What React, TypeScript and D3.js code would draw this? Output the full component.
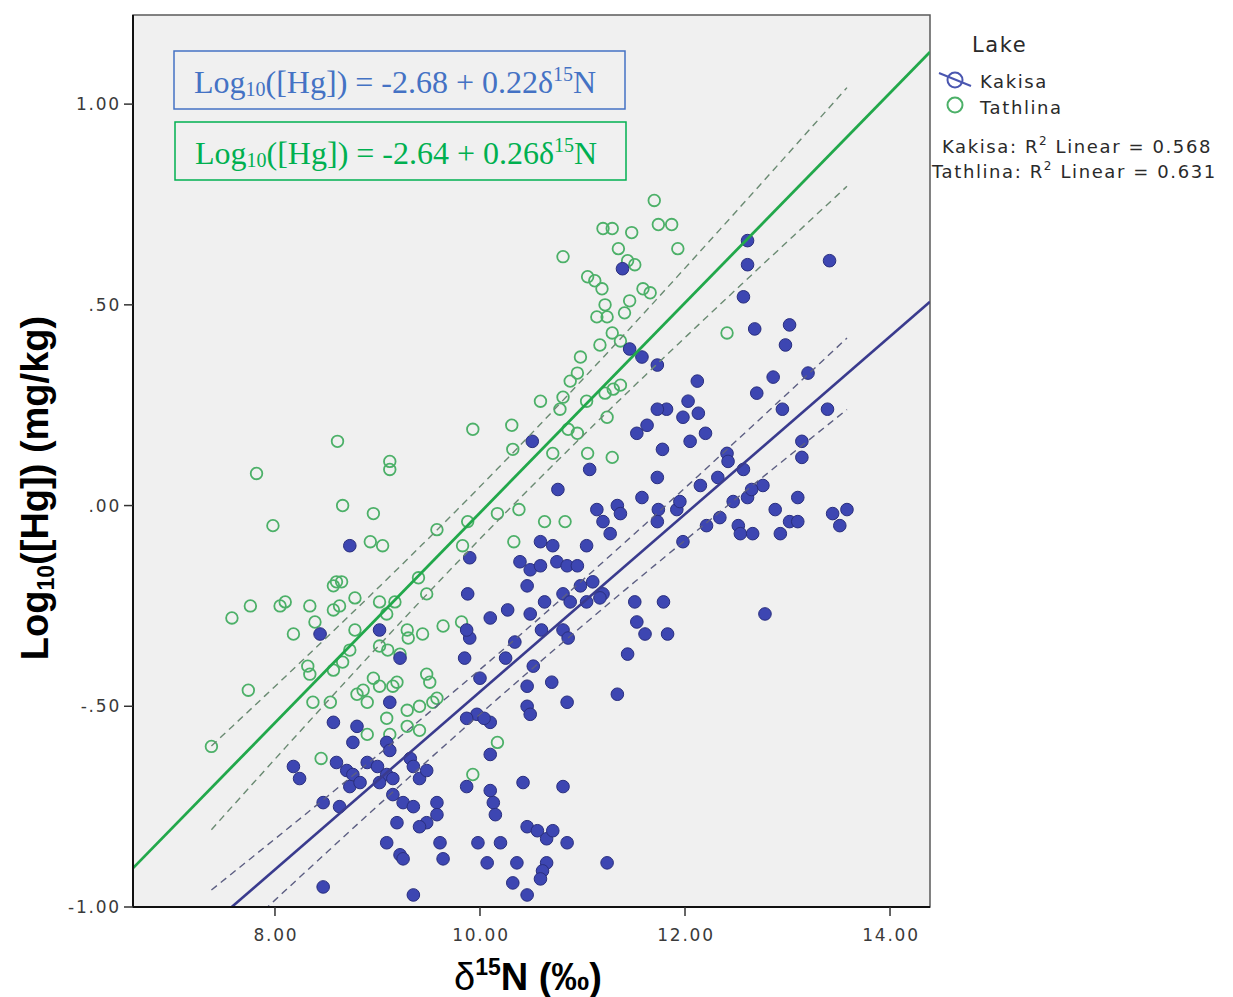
import React from 'react';
import * as d3 from 'd3';

// ---------- data ----------
const kakisaD15N = [
  11.39, 12.61, 12.61, 13.41, 12.57, 12.68, 13.02, 12.98, 11.46, 11.58, 11.73, 10.51, 12.12, 12.86, 12.70, 13.20,
  12.03, 12.13, 11.82, 11.98, 11.73, 11.63, 11.53, 11.78, 12.05, 12.20, 12.95, 13.39, 13.14, 13.14, 12.41, 12.42,
  12.57, 11.07, 11.73, 12.15, 12.32, 12.76, 10.76, 11.58, 11.74, 11.92, 11.95, 12.47, 12.61, 12.65, 12.88, 13.10,
  13.02, 13.10, 12.93, 13.44, 13.58, 13.51, 12.21, 12.34, 12.52, 12.54, 12.66, 11.98, 11.73, 11.14, 11.20, 11.27,
  11.34, 11.37, 11.04, 10.59, 10.71, 10.39, 10.49, 10.59, 10.75, 10.85, 10.95, 10.46, 10.81, 10.98, 11.10, 11.20,
  10.88, 11.04, 11.17, 10.49, 10.81, 10.86, 10.60, 11.51, 11.53, 11.61, 11.79, 11.83, 11.44, 12.78, 10.52, 10.70,
  10.46, 11.34, 8.73, 8.44, 9.90, 9.88, 10.10, 10.27, 9.90, 9.85, 9.87, 10.00, 9.97, 10.10, 9.22, 9.02,
  9.12, 8.57, 8.80, 8.76, 9.09, 9.12, 8.18, 8.24, 8.60, 8.70, 8.76, 8.90, 9.00, 9.09, 9.02, 9.15,
  8.73, 8.83, 9.32, 9.35, 9.41, 9.48, 8.47, 8.63, 9.15, 9.25, 9.35, 9.58, 9.58, 9.48, 9.19, 9.41,
  9.09, 9.22, 9.25, 9.61, 9.64, 8.47, 9.35, 9.87, 10.04, 10.10, 10.46, 10.49, 10.85, 10.42, 10.81, 9.87,
  10.10, 10.13, 10.15, 10.46, 10.56, 10.65, 10.71, 10.85, 9.98, 10.20, 10.07, 10.36, 10.65, 10.61, 10.59, 10.32,
  10.46, 11.24, 10.34, 10.63, 10.25,
];
const kakisaLogHg = [
  0.59, 0.66, 0.60, 0.61, 0.52, 0.44, 0.45, 0.40, 0.39, 0.37, 0.35, 0.16, 0.31, 0.32, 0.28, 0.33,
  0.26, 0.23, 0.24, 0.22, 0.24, 0.20, 0.18, 0.14, 0.16, 0.18, 0.24, 0.24, 0.16, 0.12, 0.13, 0.11,
  0.09, 0.09, 0.07, 0.05, 0.07, 0.05, 0.04, 0.02, -0.01, -0.01, 0.01, 0.01, 0.02, 0.04, -0.01, 0.02,
  -0.04, -0.04, -0.07, -0.02, -0.01, -0.05, -0.05, -0.03, -0.05, -0.07, -0.07, -0.09, -0.04, -0.01, -0.04, -0.07,
  0.00, -0.02, -0.10, -0.09, -0.10, -0.14, -0.16, -0.15, -0.14, -0.15, -0.15, -0.20, -0.22, -0.20, -0.19, -0.22,
  -0.24, -0.24, -0.23, -0.27, -0.31, -0.33, -0.31, -0.24, -0.29, -0.32, -0.24, -0.32, -0.37, -0.27, -0.40, -0.44,
  -0.45, -0.47, -0.10, -0.32, -0.13, -0.22, -0.28, -0.26, -0.33, -0.38, -0.31, -0.43, -0.52, -0.54, -0.38, -0.31,
  -0.49, -0.54, -0.55, -0.59, -0.59, -0.61, -0.65, -0.68, -0.64, -0.66, -0.67, -0.64, -0.65, -0.67, -0.69, -0.68,
  -0.70, -0.69, -0.63, -0.65, -0.68, -0.66, -0.74, -0.75, -0.72, -0.74, -0.75, -0.74, -0.77, -0.79, -0.79, -0.80,
  -0.84, -0.87, -0.88, -0.84, -0.88, -0.95, -0.97, -0.53, -0.53, -0.62, -0.50, -0.52, -0.49, -0.69, -0.70, -0.70,
  -0.71, -0.74, -0.77, -0.80, -0.81, -0.83, -0.81, -0.84, -0.84, -0.84, -0.89, -0.89, -0.89, -0.91, -0.93, -0.94,
  -0.97, -0.89, -0.34, -0.24, -0.38,
];
const tathlinaD15N = [
  11.70, 11.20, 11.29, 11.48, 11.74, 11.87, 11.35, 11.93, 10.81, 11.44, 11.51, 11.05, 11.12, 11.19, 11.59, 11.66,
  11.22, 11.14, 11.24, 11.41, 11.29, 12.41, 10.98, 10.81, 10.88, 10.95, 10.59, 10.78, 11.04, 11.22, 11.30, 11.37,
  10.31, 9.93, 10.32, 11.05, 11.29, 10.71, 10.86, 10.95, 11.24, 8.61, 7.82, 9.12, 9.12, 8.66, 8.96, 7.98,
  9.58, 8.93, 9.05, 8.60, 8.65, 8.57, 8.78, 8.05, 8.10, 8.34, 8.57, 8.63, 7.58, 8.18, 9.02, 9.09,
  8.78, 9.29, 9.30, 9.44, 9.48, 9.64, 9.02, 9.10, 8.32, 8.34, 8.57, 8.66, 8.37, 8.54, 8.80, 8.86,
  9.02, 8.96, 8.90, 9.48, 9.51, 9.58, 9.19, 9.29, 9.12, 7.74, 7.38, 8.45, 9.09, 9.29, 9.41, 8.90,
  9.15, 9.54, 10.17, 9.93, 9.88, 9.83, 10.38, 10.63, 10.83, 10.33, 10.17, 9.40, 9.82, 7.76, 8.39, 9.22,
  8.73, 9.41, 9.17, 11.46, 11.37, 11.17,
];
const tathlinaLogHg = [
  0.76, 0.69, 0.69, 0.68, 0.70, 0.70, 0.64, 0.64, 0.62, 0.61, 0.60, 0.57, 0.56, 0.54, 0.54, 0.53,
  0.50, 0.47, 0.47, 0.48, 0.43, 0.43, 0.37, 0.27, 0.31, 0.33, 0.26, 0.24, 0.26, 0.28, 0.29, 0.30,
  0.20, 0.19, 0.14, 0.13, 0.12, 0.13, 0.19, 0.18, 0.22, 0.16, 0.08, 0.11, 0.09, 0.00, -0.02, -0.05,
  -0.06, -0.09, -0.10, -0.19, -0.19, -0.20, -0.23, -0.25, -0.24, -0.25, -0.26, -0.25, -0.28, -0.32, -0.24, -0.27,
  -0.31, -0.31, -0.33, -0.32, -0.22, -0.30, -0.35, -0.36, -0.40, -0.42, -0.41, -0.39, -0.49, -0.49, -0.47, -0.46,
  -0.45, -0.43, -0.49, -0.42, -0.44, -0.48, -0.44, -0.51, -0.57, -0.46, -0.60, -0.63, -0.53, -0.55, -0.56, -0.57,
  -0.45, -0.49, -0.59, -0.67, -0.04, -0.10, -0.01, -0.04, -0.04, -0.09, -0.02, -0.18, -0.29, -0.25, -0.29, -0.37,
  -0.36, -0.50, -0.24, 0.51, 0.41, 0.40,
];

const xTicks = [8, 10, 12, 14];
const yTicks = [-1, -0.5, 0, 0.5, 1];

// fitted lines as drawn
const kakisaFit = { intercept: -2.677, slope: 0.2213 };
const tathlinaFit = { intercept: -2.633, slope: 0.2615 };
// mean-confidence band (half-width = sqrt(a^2 + b^2 (x-c)^2))
const kakisaBand = { a: 0.055, b: 0.022, c: 10.4 };
const tathlinaBand = { a: 0.065, b: 0.03, c: 10.1 };

const lakes = ['Kakisa', 'Tathlina'];
const r2Values = ['0.568', '0.631'];

// ---------- layout ----------
const W = 1233;
const H = 997;
const P = { left: 133, right: 930, top: 15, bottom: 907 };

const BLUE_PT = '#3d46b2';
const BLUE_PT_STROKE = '#2a2f7e';
const GREEN_PT = '#4cb068';
const BLUE_LINE = '#3a3b8e';
const GREEN_LINE = '#22a84b';
const EQ_BLUE = '#4472c4';
const EQ_GREEN = '#00b050';

const fmtY = (v: number) => {
  const s = Math.abs(v).toFixed(2).replace(/^0\./, '.');
  return (v < 0 ? '-' : '') + s;
};

export default function App() {
  const x = d3.scaleLinear().domain([6.615, 14.39]).range([P.left, P.right]);
  const y = d3.scaleLinear().domain([-1.0, 1.222]).range([P.bottom, P.top]);

  const allX = kakisaD15N.concat(tathlinaD15N);
  const xMin = d3.min(allX) as number;
  const xMax = d3.max(allX) as number;

  const line = d3
    .line<[number, number]>()
    .x((d) => x(d[0]))
    .y((d) => y(d[1]));

  const fitPath = (f: { intercept: number; slope: number }) => {
    const [a, b] = x.domain();
    return line([
      [a, f.intercept + f.slope * a],
      [b, f.intercept + f.slope * b],
    ]);
  };

  const bandPath = (
    f: { intercept: number; slope: number },
    band: { a: number; b: number; c: number },
    sign: number
  ) => {
    const n = 60;
    const pts: [number, number][] = d3.range(n + 1).map((i) => {
      const xv = xMin + ((xMax - xMin) * i) / n;
      const h = Math.sqrt(band.a * band.a + band.b * band.b * (xv - band.c) * (xv - band.c));
      return [xv, f.intercept + f.slope * xv + sign * h];
    });
    return line(pts);
  };

  const tickFont = { fontFamily: 'DejaVu Sans, sans-serif', fontSize: 17, fill: '#3a3a3a', letterSpacing: 1.8 };
  const legFont = { fontFamily: 'DejaVu Sans, sans-serif', fontSize: 18, fill: '#2a2a2a', letterSpacing: 1.6 };

  return (
    <svg
      width={W}
      height={H}
      viewBox={`0 0 ${W} ${H}`}
      style={{ position: 'absolute', left: 0, top: 0, background: '#ffffff' }}
    >
      <defs>
        <clipPath id="plotClip">
          <rect x={P.left} y={P.top} width={P.right - P.left} height={P.bottom - P.top} />
        </clipPath>
      </defs>

      {/* plot background */}
      <rect x={P.left} y={P.top} width={P.right - P.left} height={P.bottom - P.top} fill="#f0f0f0" stroke="#5a5a5a" strokeWidth={1.5} />

      {/* points */}
      <g clipPath="url(#plotClip)">
        {tathlinaD15N.map((d, i) => (
          <circle key={'t' + i} cx={x(d)} cy={y(tathlinaLogHg[i])} r={5.8} fill="none" stroke={GREEN_PT} strokeWidth={1.8} />
        ))}
        {kakisaD15N.map((d, i) => (
          <circle key={'k' + i} cx={x(d)} cy={y(kakisaLogHg[i])} r={6.3} fill={BLUE_PT} stroke={BLUE_PT_STROKE} strokeWidth={1} />
        ))}
      </g>

      {/* fit lines and bands */}
      <g clipPath="url(#plotClip)" fill="none">
        <path d={bandPath(tathlinaFit, tathlinaBand, 1) || ''} stroke="#6a8a72" strokeWidth={1.4} strokeDasharray="7 5" />
        <path d={bandPath(tathlinaFit, tathlinaBand, -1) || ''} stroke="#6a8a72" strokeWidth={1.4} strokeDasharray="7 5" />
        <path d={bandPath(kakisaFit, kakisaBand, 1) || ''} stroke="#5c5e82" strokeWidth={1.4} strokeDasharray="7 5" />
        <path d={bandPath(kakisaFit, kakisaBand, -1) || ''} stroke="#5c5e82" strokeWidth={1.4} strokeDasharray="7 5" />
        <path d={fitPath(tathlinaFit) || ''} stroke={GREEN_LINE} strokeWidth={2.8} />
        <path d={fitPath(kakisaFit) || ''} stroke={BLUE_LINE} strokeWidth={2.6} />
      </g>

      {/* axes lines */}
      <line x1={P.left} x2={P.left} y1={P.top} y2={P.bottom} stroke="#111" strokeWidth={2} />
      <line x1={P.left} x2={P.right} y1={P.bottom} y2={P.bottom} stroke="#111" strokeWidth={2} />

      {/* y ticks */}
      {yTicks.map((t) => (
        <g key={'yt' + t}>
          <line x1={P.left - 9} x2={P.left} y1={y(t)} y2={y(t)} stroke="#333" strokeWidth={1.5} />
          <text x={P.left - 12} y={y(t) + 6} textAnchor="end" {...tickFont}>
            {fmtY(t)}
          </text>
        </g>
      ))}

      {/* x ticks */}
      {xTicks.map((t) => (
        <g key={'xt' + t}>
          <line x1={x(t)} x2={x(t)} y1={P.bottom} y2={P.bottom + 9} stroke="#333" strokeWidth={1.5} />
          <text x={x(t) + 1} y={P.bottom + 34} textAnchor="middle" {...tickFont}>
            {t.toFixed(2)}
          </text>
        </g>
      ))}

      {/* axis titles */}
      <text
        transform={`translate(48, 488) rotate(-90)`}
        textAnchor="middle"
        fontFamily="Liberation Sans, Arial, sans-serif"
        fontWeight="bold"
        fontSize={38}
        fill="#000"
      >
        <tspan>Log</tspan>
        <tspan fontSize={23} dy={6}>10</tspan>
        <tspan dy={-6}>([Hg]) (mg/kg)</tspan>
      </text>
      <text
        x={528}
        y={990}
        textAnchor="middle"
        fontFamily="Liberation Sans, Arial, sans-serif"
        fontWeight="bold"
        fontSize={38}
        fill="#000"
      >
        <tspan fontWeight="normal">δ</tspan>
        <tspan fontSize={23} dy={-15}>15</tspan>
        <tspan dy={15}>N (‰)</tspan>
      </text>

      {/* equation boxes */}
      <rect x={174} y={51} width={451} height={58} fill="none" stroke={EQ_BLUE} strokeWidth={1.5} />
      <text x={194} y={93} fontFamily="Liberation Serif, Times New Roman, serif" fontSize={32} fill={EQ_BLUE}>
        <tspan>Log</tspan>
        <tspan fontSize={20} dy={3}>10</tspan>
        <tspan dy={-3}>([Hg]) = -2.68 + 0.22δ</tspan>
        <tspan fontSize={20} dy={-12}>15</tspan>
        <tspan dy={12}>N</tspan>
      </text>
      <rect x={175} y={122} width={451} height={58} fill="none" stroke={EQ_GREEN} strokeWidth={1.5} />
      <text x={195} y={164} fontFamily="Liberation Serif, Times New Roman, serif" fontSize={32} fill={EQ_GREEN}>
        <tspan>Log</tspan>
        <tspan fontSize={20} dy={3}>10</tspan>
        <tspan dy={-3}>([Hg]) = -2.64 + 0.26δ</tspan>
        <tspan fontSize={20} dy={-12}>15</tspan>
        <tspan dy={12}>N</tspan>
      </text>

      {/* legend */}
      <text x={972} y={52} {...legFont} fontSize={21}>
        Lake
      </text>
      <circle cx={955} cy={80} r={7.5} fill="none" stroke="#4a56b0" strokeWidth={2} />
      <line x1={939} x2={971} y1={73} y2={86} stroke="#4a56b0" strokeWidth={2} />
      <text x={980} y={88} {...legFont}>
        {lakes[0]}
      </text>
      <circle cx={955} cy={105} r={7.5} fill="none" stroke={GREEN_PT} strokeWidth={2} />
      <text x={980} y={114} {...legFont}>
        {lakes[1]}
      </text>
      {lakes.map((lk, i) => (
        <text key={'r2' + lk} x={i === 0 ? 942 : 932} y={153 + i * 25} {...legFont}>
          <tspan>{lk}: R</tspan>
          <tspan fontSize={12} dy={-8}>2</tspan>
          <tspan dy={8}> Linear = {r2Values[i]}</tspan>
        </text>
      ))}
    </svg>
  );
}
